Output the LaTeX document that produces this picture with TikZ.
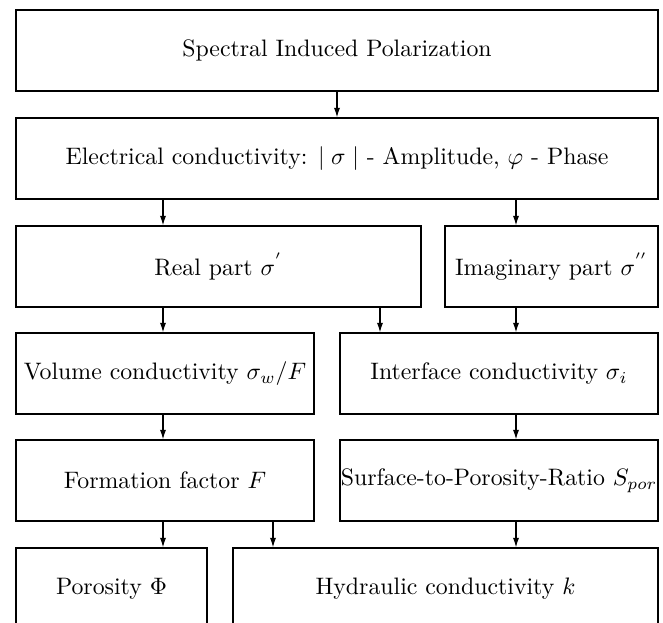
\documentclass[tikz,border=0pt]{standalone}
\usetikzlibrary{arrows.meta}
\begin{document}
\begin{tikzpicture}[x=0.42pt,y=-0.42pt,
  box/.style={draw,line width=0.6pt,inner sep=0pt,minimum height=34pt},
  arr/.style={line width=0.45pt,-{Latex[length=4pt,width=2.6pt]}}]
\useasboundingbox (0,0) rectangle (663,623);
\clip (0,0) rectangle (663,623);

\node[box,minimum width=269.6pt] (sip) at (337,50.5) {Spectral Induced Polarization};
\node[box,minimum width=269.6pt] (elec) at (337,158.5) {Electrical conductivity: $\mid\sigma\mid$ - Amplitude, $\varphi$ - Phase};

\node[box,minimum width=170.1pt] (real) at (218.5,266.5) {Real part $\sigma^{'}$};
\node[box,minimum width=89.5pt] (imag) at (551.5,266.5) {Imaginary part $\sigma^{''}$};

\node[box,minimum width=125.2pt] (volume) at (165,373.5) {Volume conductivity $\sigma_w/F$};
\node[box,minimum width=133.6pt] (interface) at (499,373.5) {Interface conductivity $\sigma_i$};

\node[box,minimum width=125.2pt] (formation) at (165,480.5) {Formation factor $F$};
\node[box,minimum width=133.6pt] (surface) at (499,480.5) {Surface-to-Porosity-Ratio $S_{por}$};

\node[box,minimum width=80.2pt] (porosity) at (111.5,588.5) {Porosity $\Phi$};
\node[box,minimum width=178.5pt] (hydraulic) at (445.5,588.5) {Hydraulic conductivity $k$};

% x positions of the arrows
\coordinate (xa) at (163,0);
\coordinate (xb) at (273,0);
\coordinate (xc) at (380,0);
\coordinate (xd) at (516,0);

\draw[arr] (sip) -- (elec);
\draw[arr] (xa |- elec.south) -- (xa |- real.north);
\draw[arr] (xd |- elec.south) -- (xd |- imag.north);
\draw[arr] (xa |- real.south) -- (xa |- volume.north);
\draw[arr] (xc |- real.south) -- (xc |- interface.north);
\draw[arr] (xd |- imag.south) -- (xd |- interface.north);
\draw[arr] (xa |- volume.south) -- (xa |- formation.north);
\draw[arr] (xd |- interface.south) -- (xd |- surface.north);
\draw[arr] (xa |- formation.south) -- (xa |- porosity.north);
\draw[arr] (xb |- formation.south) -- (xb |- hydraulic.north);
\draw[arr] (xd |- surface.south) -- (xd |- hydraulic.north);
\end{tikzpicture}
\end{document}
